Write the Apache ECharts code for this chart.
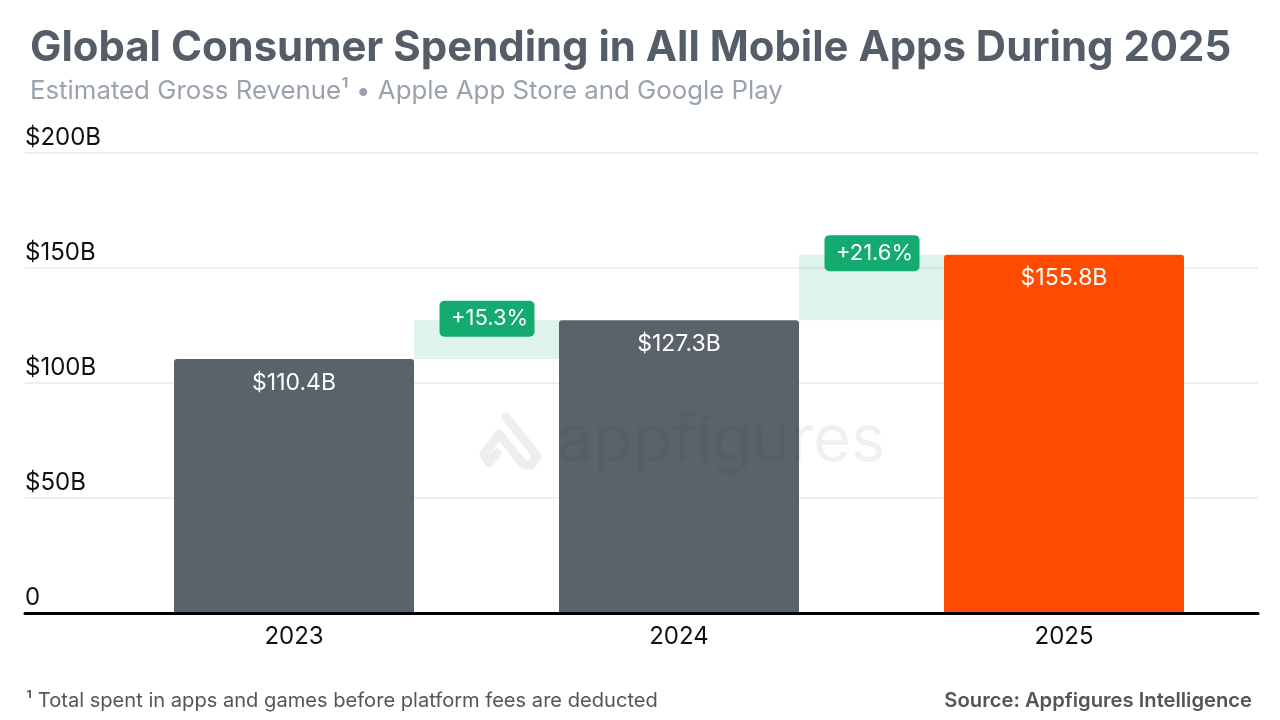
<!DOCTYPE html>
<html><head><meta charset="utf-8">
<style>html,body{margin:0;padding:0;background:#fff}#c{width:1280px;height:720px}</style>
<script src="https://cdn.jsdelivr.net/npm/echarts@6/dist/echarts.min.js"></script></head>
<body><div id="c"></div>
<script>
const categories = ['2023','2024','2025'];
const revenue = [110.4,127.3,155.8];
const revenueLabels = ['$110.4B','$127.3B','$155.8B'];
const barColors = ['#5A626C','#5A626C','#FF4B00'];
const gainLabels = ['+15.3%','+21.6%'];
const FONT = 'Inter';
const BAR_RATIO = 240/385;

const chart = echarts.init(document.getElementById('c'),null,{renderer:'canvas'});
chart.setOption({
  animation:false,
  backgroundColor:'#fff',
  title:[
    {text:'Global Consumer Spending in All Mobile Apps During 2025',left:30,top:27,padding:0,
     textStyle:{fontFamily:FONT,fontWeight:700,fontSize:41.9,color:'#555E68'}},
    {text:'Estimated Gross Revenue¹ • Apple App Store and Google Play',left:30,top:78,padding:0,
     textStyle:{fontFamily:FONT,fontWeight:400,fontSize:25.8,color:'#9AA3AD'}},
    {text:'¹ Total spent in apps and games before platform fees are deducted',left:26,top:691,padding:0,
     textStyle:{fontFamily:FONT,fontWeight:400,fontSize:20.1,color:'#555'}},
    {text:'Source: Appfigures Intelligence',right:28,top:691,padding:0,
     textStyle:{fontFamily:FONT,fontWeight:600,fontSize:20.2,color:'#555'}}
  ],
  grid:[
    {left:25,right:22,top:153,bottom:107},
    {left:101.5,right:23.5,top:153,bottom:107}
  ],
  xAxis:[
    {gridIndex:0,type:'category',data:[''],axisTick:{show:false},axisLabel:{show:false},
     axisLine:{lineStyle:{color:'#000',width:3}},z:10},
    {gridIndex:1,type:'category',data:categories,axisTick:{show:false},axisLine:{show:false},
     axisLabel:{fontFamily:FONT,fontSize:24,color:'#111',margin:12}}
  ],
  yAxis:[
    {gridIndex:0,type:'value',min:0,max:200,interval:50,axisLine:{show:false},axisTick:{show:false},
     splitLine:{lineStyle:{color:'#E8EAEB',width:1.5}},
     axisLabel:{inside:true,margin:0,verticalAlign:'bottom',padding:[0,0,3,0],fontFamily:FONT,fontSize:24,color:'#111',
       formatter:v=>v===0?'0':'$'+v+'B'}},
    {gridIndex:1,type:'value',min:0,max:200,interval:50,show:false}
  ],
  series:[
    {type:'custom',xAxisIndex:1,yAxisIndex:1,z:2,clip:false,
     data:gainLabels.map((g,i)=>[i,revenue[i],revenue[i+1],g]),
     encode:{x:0,y:[1,2]},
     renderItem(params,api){
       const i=api.value(0), cw=api.size([1,0])[0], half=cw*BAR_RATIO/2;
       const lo=api.coord([i,api.value(1)]), hi=api.coord([i+1,api.value(2)]);
       const x0=lo[0]+half, x1=hi[0]-half, yTop=hi[1], yBot=lo[1];
       const cx=(x0+x1)/2+0.5, cy=yTop-1.5, pw=95, ph=36;
       return {type:'group',children:[
         {type:'rect',shape:{x:x0,y:yTop,width:x1-x0,height:yBot-yTop},style:{fill:'rgba(19,171,112,0.14)'}},
         {type:'rect',shape:{x:cx-pw/2,y:cy-ph/2,width:pw,height:ph,r:5},style:{fill:'#13AB70'}},
         {type:'text',style:{x:cx+2.5,y:cy,text:api.value(3),fill:'#fff',font:'400 22px '+FONT,align:'center',verticalAlign:'middle'}}
       ]};
     }},
    {type:'bar',xAxisIndex:1,yAxisIndex:1,z:3,barWidth:240,
     data:revenue.map((v,i)=>({value:v,itemStyle:{color:barColors[i]},label:{formatter:revenueLabels[i]}})),
     itemStyle:{borderRadius:[3,3,0,0]},
     label:{show:true,position:'insideTop',distance:12,color:'#fff',fontFamily:FONT,fontSize:23}}
  ],
  graphic:[
    {type:'text',z:50,left:557,top:409,style:{text:'appfigures',fontFamily:FONT,fontSize:64.7,fontWeight:400,fill:'rgba(40,40,40,0.07)'}},
    {type:'polyline',z:50,shape:{points:[[506,417],[537,456],[531,465],[524,465],[499,434],[484,454],[489,463],[497,453]]},
     style:{fill:'none',stroke:'rgba(40,40,40,0.08)',lineWidth:9,lineJoin:'round',lineCap:'round'}}
  ]
});
</script></body></html>
